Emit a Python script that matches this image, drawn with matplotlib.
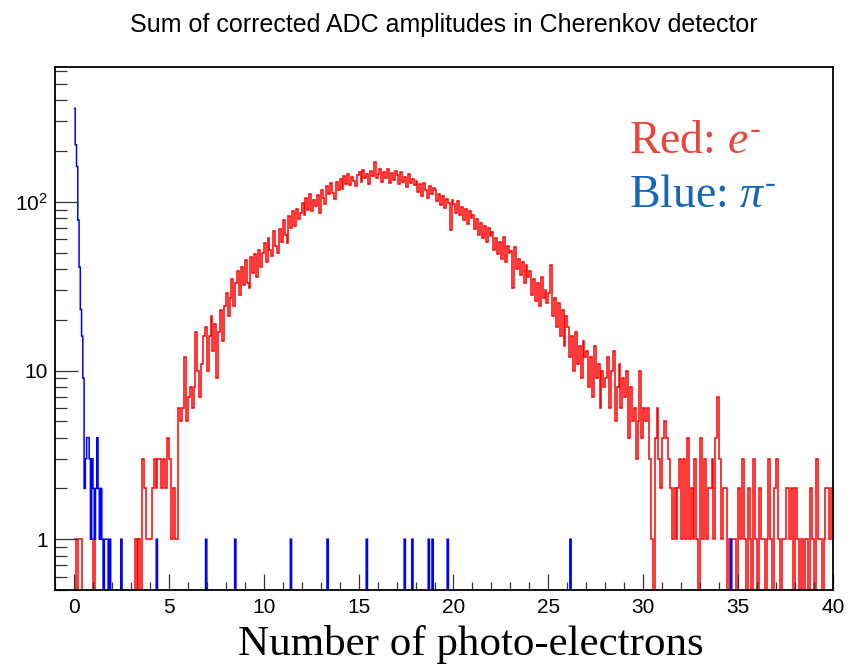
import matplotlib.pyplot as plt
import matplotlib.ticker as mticker
import numpy as np

plt.rcParams['font.family'] = ['Liberation Sans', 'DejaVu Sans']
plt.rcParams['mathtext.fontset'] = 'custom'
plt.rcParams['mathtext.rm'] = 'Liberation Serif'
plt.rcParams['mathtext.it'] = 'Liberation Serif:italic'

# electrons: counts in 0.1 p.e. bins, one row per unit from 0 to 40
red_bin = 0.1
red_counts = [
    1, 0, 1, 1, 0, 0, 0, 0, 0, 0,
    1, 0, 0, 0, 0, 0, 0, 0, 0, 0,
    0, 0, 0, 0, 0, 0, 0, 0, 0, 0,
    0, 0, 1, 0, 1, 0, 3, 2, 1, 1,
    1, 2, 3, 2, 3, 3, 2, 3, 2, 4,
    3, 1, 2, 1, 1, 6, 5, 6, 12, 5,
    7, 8, 6, 8, 17, 10, 7, 11, 16, 18,
    10, 16, 21, 13, 19, 9, 17, 23, 15, 24,
    29, 21, 27, 35, 24, 33, 39, 28, 41, 32,
    45, 33, 31, 47, 38, 49, 36, 52, 41, 50,
    57, 44, 61, 52, 48, 67, 55, 50, 69, 58,
    78, 64, 57, 82, 70, 88, 72, 91, 79, 86,
    99, 84, 106, 90, 112, 88, 103, 95, 110, 86,
    118, 105, 97, 124, 111, 129, 113, 104, 131, 117,
    137, 119, 142, 128, 147, 126, 141, 133, 124, 145,
    150, 131, 155, 138, 147, 128, 152, 142, 172, 139,
    146, 157, 132, 151, 138, 156, 129, 148, 135, 153,
    144, 127, 150, 131, 141, 123, 146, 130, 137, 125,
    133, 115, 127, 109, 130, 118, 106, 124, 111, 120,
    118, 101, 112, 96, 109, 92, 104, 99, 68, 102,
    97, 86, 101, 83, 93, 78, 91, 74, 88, 80,
    83, 69, 79, 64, 75, 61, 72, 58, 70, 63,
    66, 52, 61, 49, 58, 46, 62, 44, 55, 50,
    51, 31, 54, 40, 46, 37, 44, 33, 42, 36,
    39, 28, 35, 26, 33, 24, 36, 27, 30, 25,
    29, 42, 21, 27, 18, 25, 16, 23, 14, 21,
    18, 12, 16, 10, 17, 11, 14, 9, 15, 12,
    13, 8, 12, 7, 14, 9, 11, 6, 10, 8,
    9, 12, 6, 10, 13, 5, 8, 11, 6, 9,
    7, 10, 4, 8, 5, 6, 3, 5, 10, 4,
    6, 5, 6, 3, 1, 0, 4, 6, 3, 2,
    4, 5, 4, 3, 2, 1, 2, 1, 2, 3,
    1, 3, 1, 4, 1, 2, 1, 3, 1, 0,
    4, 1, 3, 1, 2, 2, 3, 1, 4, 7,
    3, 1, 2, 2, 0, 1, 1, 1, 1, 0,
    2, 1, 3, 1, 0, 2, 1, 0, 3, 1,
    0, 2, 1, 1, 0, 1, 3, 1, 0, 2,
    3, 1, 0, 1, 1, 2, 2, 1, 2, 0,
    2, 1, 0, 1, 0, 1, 1, 0, 2, 1,
    0, 3, 1, 1, 0, 1, 2, 2, 1, 2,
]

# pions: pedestal peak in 1/15 p.e. bins, then single entries further out
blue_bin = 1 / 15
blue_peak = [358, 218, 162, 78, 41, 23, 16, 9, 2, 3, 4, 4, 3, 1, 3,
             2, 1, 2, 4, 2, 1, 2, 1, 0, 1, 1, 1, 0, 1]
blue_single = [2.48, 4.39, 6.99, 8.48, 11.45, 13.36, 15.43, 17.4, 17.84,
               18.7, 18.93, 19.69, 26.19, 34.6]

red_edges = np.arange(len(red_counts) + 1) * red_bin
red = np.array(red_counts, dtype=float)

blue_edges = np.arange(601) * blue_bin
blue = np.histogram(blue_single, blue_edges)[0].astype(float)
blue[:len(blue_peak)] += blue_peak

fig = plt.figure(figsize=(8.6, 6.67), dpi=100)
ax = fig.add_axes([55 / 860, 77 / 667, 778 / 860, 523 / 667])

# empty bins drop below the frame, like ROOT does on a log axis
ax.stairs(np.where(red > 0, red, 1e-2), red_edges, baseline=None,
          color='#ff0000', lw=1.1)
ax.stairs(np.where(blue > 0, blue, 1e-2), blue_edges, baseline=None,
          color='#0000ff', lw=1.1)

ax.set_yscale('log')
ax.set_xlim(-1, 40)
ax.set_ylim(0.5, 630)

ax.xaxis.set_major_locator(mticker.MultipleLocator(5))
ax.xaxis.set_minor_locator(mticker.MultipleLocator(1))
ax.yaxis.set_major_locator(mticker.FixedLocator([1, 10, 100]))
ax.yaxis.set_minor_locator(mticker.LogLocator(base=10, subs=np.arange(2, 10), numticks=20))
ax.yaxis.set_minor_formatter(mticker.NullFormatter())
ylabels = {1: '1', 10: '10', 100: r'$\mathregular{10^{2}}$'}
ax.yaxis.set_major_formatter(mticker.FuncFormatter(lambda v, p: ylabels.get(int(round(v)), '')))

ax.tick_params(which='both', direction='in', labelsize=15, color='#333333', width=0.9,
               top=False, right=False)
ax.tick_params(axis='x', which='major', length=11.5, pad=6)
ax.tick_params(axis='x', which='minor', length=5.8)
ax.tick_params(axis='y', which='major', length=16.5, pad=5)
ax.tick_params(axis='y', which='minor', length=8.5)
for s in ax.spines.values():
    s.set_linewidth(1.3)
    s.set_color('black')

fig.text(443.5 / 860, 0.952, 'Sum of corrected ADC amplitudes in Cherenkov detector',
         ha='center', va='baseline', fontsize=18)
fig.text(471 / 860, 0.0184, 'Number of photo-electrons', ha='center', va='baseline',
         fontsize=31, family='Liberation Serif')

fig.text(629 / 860, 0.7706, 'Red: $e^{‐}$', color='#e9453b', fontsize=33,
         family='Liberation Serif', va='baseline')
fig.text(629 / 860, 0.690, r'Blue: $\pi^{‐}$', color='#1466b8', fontsize=33,
         family='Liberation Serif', va='baseline')

fig.savefig('out.png', dpi=100)
